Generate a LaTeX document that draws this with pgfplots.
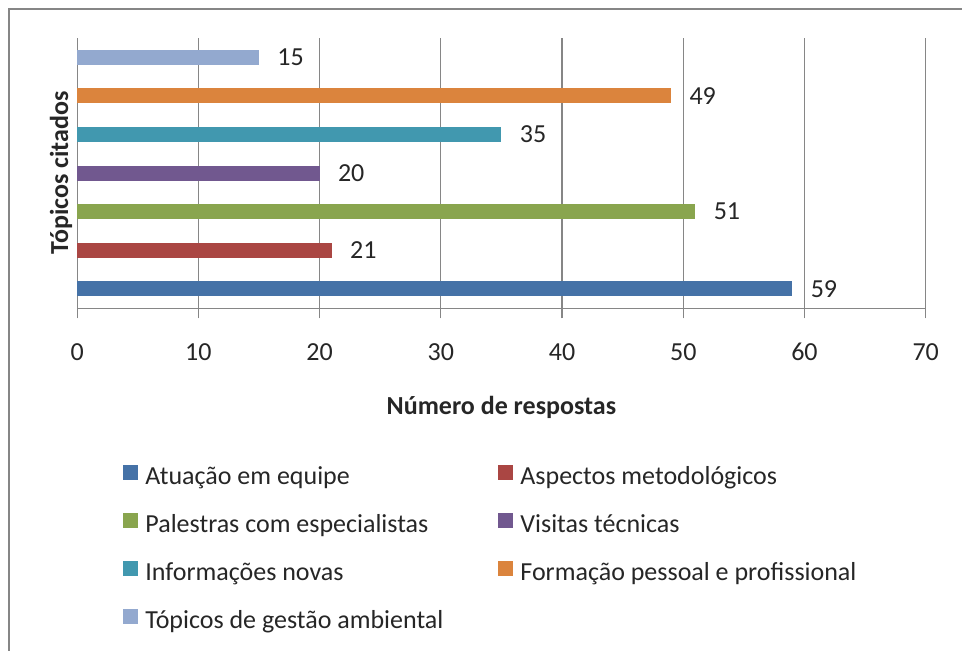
\documentclass[border=0pt]{standalone}
\usepackage{fontspec}
\setmainfont{Carlito}
\usepackage{pgfplots}
\pgfplotsset{compat=1.18}

\definecolor{sAtu}{HTML}{4572A7}
\definecolor{sAsp}{HTML}{AA4643}
\definecolor{sPal}{HTML}{89A54E}
\definecolor{sVis}{HTML}{71588F}
\definecolor{sInf}{HTML}{4198AF}
\definecolor{sFor}{HTML}{DB843D}
\definecolor{sTop}{HTML}{93A9CF}
\definecolor{gridgray}{HTML}{868686}
\definecolor{txt}{HTML}{262626}

\begin{document}
\begin{tikzpicture}
\useasboundingbox (0,0) rectangle (481pt,-325.5pt);
\draw[gridgray, line width=1pt] (4.5pt,-340pt) -- (4.5pt,-4.5pt) -- (490pt,-4.5pt);
\begin{axis}[at={(38.6pt,-154.15pt)}, anchor=south west, scale only axis,
             width=424.25pt, height=135.3pt,
             xmin=0, xmax=70, ymin=0.5, ymax=7.5,
             xtick={0,10,...,70}, ytick=\empty,
             axis x line*=bottom, axis y line*=left,
             xmajorgrids, grid style={gridgray, line width=0.6pt},
             axis line style={gridgray, line width=0.6pt},
             tick style={gridgray, line width=0.6pt},
             tick align=outside, major tick length=5pt,
             font=\fontsize{13}{15}\selectfont, text=txt,
             /pgf/number format/assume math mode=true,
             xticklabel style={anchor=center, yshift=-17pt, text=txt},
             xlabel={\textbf{Número de respostas}},
             xlabel style={at={(axis description cs:0.5,-0.365)}, anchor=center},
             ylabel={\textbf{Tópicos citados}},
             ylabel style={at={(axis description cs:-0.019,0.5)}, anchor=center},
             every axis plot/.append style={xbar, bar width=7.5pt, bar shift=0pt, draw=none,
               point meta=x, nodes near coords,
               nodes near coords style={anchor=west, inner sep=0pt, xshift=9pt, text=txt}},
             legend columns=2, legend cell align=left,
             legend image code/.code={\fill[#1] (0pt,-0.8pt) rectangle (7.5pt,7pt);},
             legend style={at={(axis description cs:0.054,-0.577)}, anchor=north west,
               draw=none, fill=none, inner sep=0pt, row sep=11pt,
               nodes={inner sep=0pt, text height=9pt, text depth=3pt},
               /tikz/every odd column/.append style={column sep=3.5pt}}]
\addplot[fill=sAtu] coordinates {(59,1)};
\addlegendentry{\makebox[176.5pt][l]{Atuação em equipe}}
\addplot[fill=sAsp] coordinates {(21,2)};
\addlegendentry{Aspectos metodológicos}
\addplot[fill=sPal] coordinates {(51,3)};
\addlegendentry{\makebox[176.5pt][l]{Palestras com especialistas}}
\addplot[fill=sVis] coordinates {(20,4)};
\addlegendentry{Visitas técnicas}
\addplot[fill=sInf] coordinates {(35,5)};
\addlegendentry{\makebox[176.5pt][l]{Informações novas}}
\addplot[fill=sFor] coordinates {(49,6)};
\addlegendentry{Formação pessoal e profissional}
\addplot[fill=sTop] coordinates {(15,7)};
\addlegendentry{\makebox[176.5pt][l]{Tópicos de gestão ambiental}}
\end{axis}
\end{tikzpicture}
\end{document}
